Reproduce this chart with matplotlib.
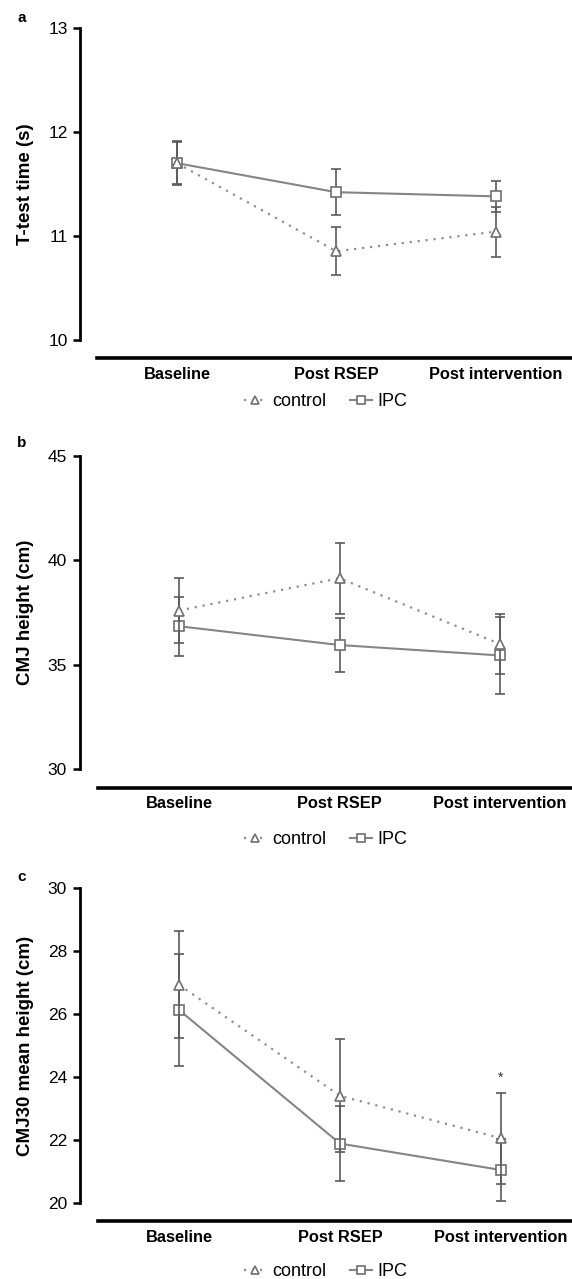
import matplotlib
matplotlib.use("Agg")
import matplotlib.pyplot as plt

plt.rcParams['font.family'] = ['Liberation Sans', 'DejaVu Sans']

# data
categories = ["Baseline", "Post RSEP", "Post intervention"]

a_control = [11.70, 10.85, 11.04]
a_control_err = [0.20, 0.23, 0.24]
a_ipc = [11.70, 11.42, 11.38]
a_ipc_err = [0.21, 0.22, 0.15]

b_control = [37.6, 39.15, 36.0]
b_control_err = [1.55, 1.7, 1.45]
b_ipc = [36.85, 35.95, 35.45]
b_ipc_err = [1.42, 1.3, 1.85]

c_control = [26.93, 23.4, 22.05]
c_control_err = [1.7, 1.8, 1.45]
c_ipc = [26.13, 21.88, 21.04]
c_ipc_err = [1.77, 1.18, 1.0]

ylabels = ["T-test time (s)", "CMJ height (cm)", "CMJ30 mean height (cm)"]
yticks_list = [[10, 11, 12, 13], [30, 35, 40, 45], [20, 22, 24, 26, 28, 30]]
panel_letters = ["a", "b", "c"]
star_pos = (2, 23.98)  # asterisk in panel c

panels = [
    (a_control, a_control_err, a_ipc, a_ipc_err),
    (b_control, b_control_err, b_ipc, b_ipc_err),
    (c_control, c_control_err, c_ipc, c_ipc_err),
]

W, H = 572, 1279
fig = plt.figure(figsize=(W / 100, H / 100), dpi=100)

# layout in pixels
boxes = [(28.3, 339.5), (456.0, 769.3), (888.3, 1202.7)]   # (top, bottom) of y axis
left_px = [80.0, 79.5, 79.5]                                  # y axis x position
cat_px = [(177.0, 495.5), (179.0, 500.0), (179.0, 501.0)]    # first / last category centre
line_start_px = 97.5
letter_y = [18, 443, 877]
legend_y = [402, 840, 1272]
legend_x = 326

x = [0, 1, 2]
ipc_col = "#858585"
ctl_col = "#8f8f8f"
err_col = "#5a5a5a"

for i, (ctl, ctl_err, ipc, ipc_err) in enumerate(panels):
    top, bot = boxes[i]
    lp = left_px[i]
    ax = fig.add_axes([lp / W, 1 - bot / H, (W - lp) / W, (bot - top) / H])

    # spines first: moving a spine resets the ticks
    for s in ["top", "right"]:
        ax.spines[s].set_visible(False)
    ax.spines["bottom"].set_position(("outward", 13.5))
    ax.spines["left"].set_linewidth(2)
    ax.spines["bottom"].set_linewidth(2.6)

    c_ipc_ = ax.errorbar(x, ipc, yerr=ipc_err, color=ipc_col, ecolor=err_col, lw=1.5,
                         elinewidth=1.2, capsize=3.6, capthick=1.2, marker="s", ms=7,
                         mfc="white", mec="#707070", mew=1.2, zorder=3)
    c_ctl_ = ax.errorbar(x, ctl, yerr=ctl_err, color=ctl_col, ecolor=err_col, lw=1.6,
                         ls=(0, (1, 2.6)), elinewidth=1.2, capsize=3.6, capthick=1.2,
                         marker="^", ms=7, mfc="white", mec="#707070", mew=1.2,
                         zorder=4)

    yt = yticks_list[i]
    ax.set_ylim(yt[0], yt[-1])
    ax.set_yticks(yt)
    ax.spines["left"].set_bounds(yt[0], yt[-1])

    # map pixel layout to data x limits
    p0, p2 = cat_px[i]
    step = (p2 - p0) / 2
    ax.set_xlim((lp - p0) / step, (W - p0) / step)
    ax.spines["bottom"].set_bounds((line_start_px - p0) / step, (W - p0) / step)
    ax.set_xticks(x)
    ax.set_xticklabels(categories)

    ax.tick_params(axis="y", length=5, width=1.8, labelsize=12.5, pad=4)
    ax.tick_params(axis="x", length=0, pad=6, labelsize=11.8)
    for lab in ax.get_xticklabels():
        lab.set_fontweight("bold")
    for lab in ax.get_yticklabels():
        lab.set_fontsize(12.5)

    ax.set_ylabel(ylabels[i], fontsize=13.5, fontweight="bold")
    ax.yaxis.set_label_coords((34 - lp) / (W - lp), 0.5)

    ax.legend([c_ctl_[0], c_ipc_[0]], ["control", "IPC"], loc="center", ncol=2,
              frameon=False,
              bbox_to_anchor=((legend_x - lp) / (W - lp), (bot - legend_y[i]) / (bot - top)),
              fontsize=13, handlelength=1.2, columnspacing=1.3,
              handletextpad=0.35, markerscale=0.8)

    fig.text(22 / W, 1 - letter_y[i] / H, panel_letters[i], fontsize=11,
             fontweight="bold", ha="center", va="center")

    if i == 2:
        ax.text(star_pos[0], star_pos[1], "*", ha="center", va="center",
                fontsize=10, color="#333333")

fig.savefig("out.png", dpi=100)
